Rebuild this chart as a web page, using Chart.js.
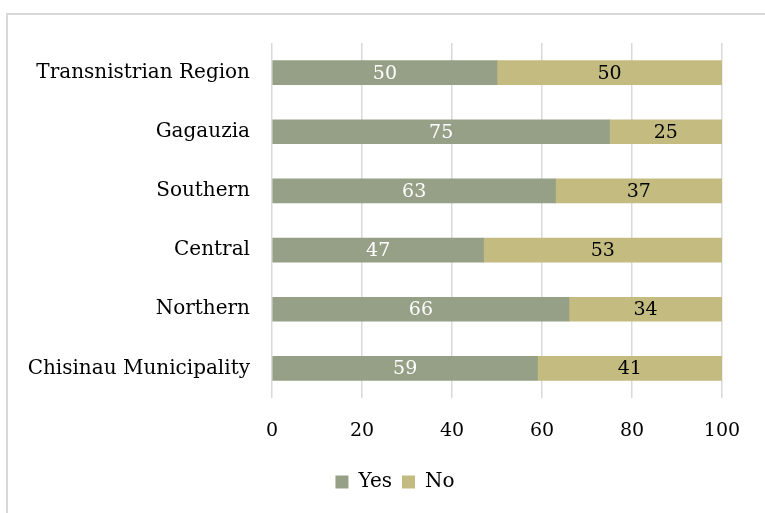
<!DOCTYPE html>
<html>
<head>
<meta charset="utf-8">
<script src="https://cdn.jsdelivr.net/npm/chart.js@4.4.1/dist/chart.umd.min.js"></script>
<style>
  html, body { margin: 0; padding: 0; background: #fff; overflow: hidden; }
  #frame {
    position: absolute; left: 6px; top: 13px;
    width: 774px; height: 520px;
    border: 2px solid #d9d9d9;
  }
  #chart { display: block; }
</style>
</head>
<body>
<div id="frame"><canvas id="chart" width="774" height="497"></canvas></div>
<script>
const regions = ['Transnistrian Region', 'Gagauzia', 'Southern', 'Central', 'Northern', 'Chisinau Municipality'];
const yesShare = [50, 75, 63, 47, 66, 59];
const noShare = [50, 25, 37, 53, 34, 41];
const xTicks = [0, 20, 40, 60, 80, 100];

const FONT = 'DejaVu Serif';

// writes each segment's value in the middle of its bar piece
const segmentLabels = {
  id: 'segmentLabels',
  afterDatasetsDraw(chart) {
    const ctx = chart.ctx;
    ctx.save();
    ctx.font = '19px "' + FONT + '"';
    ctx.textAlign = 'center';
    ctx.textBaseline = 'middle';
    chart.data.datasets.forEach((ds, i) => {
      chart.getDatasetMeta(i).data.forEach((bar, j) => {
        const mid = (bar.x + bar.base) / 2;
        ctx.fillStyle = ds.labelColor;
        ctx.fillText(String(ds.data[j]), mid, bar.y + 1);
      });
    });
    ctx.restore();
  }
};

new Chart(document.getElementById('chart'), {
  type: 'bar',
  data: {
    labels: regions,
    datasets: [
      { label: 'Yes', data: yesShare, backgroundColor: '#95a087', labelColor: '#ffffff' },
      { label: 'No', data: noShare, backgroundColor: '#c3bb80', labelColor: '#000000' }
    ]
  },
  options: {
    indexAxis: 'y',
    responsive: false,
    animation: false,
    datasets: { bar: { barThickness: 24 } },
    layout: { padding: { left: 60, right: 60, top: 28, bottom: 10 } },
    scales: {
      x: {
        stacked: true,
        min: 0,
        max: 100,
        afterBuildTicks: (scale) => { scale.ticks = xTicks.map(v => ({ value: v })); },
        afterFit: (scale) => { scale.height = 64; },
        grid: { color: '#d9d9d9', lineWidth: 1.5, drawTicks: false },
        border: { display: false },
        ticks: { color: '#000', padding: 22, font: { family: FONT, size: 19 } }
      },
      y: {
        stacked: true,
        afterFit: (scale) => {
          scale.width = 204;
          scale.paddingTop = 0;
          scale.paddingBottom = 0;
          // long region names run past the axis box on the left; don't clip them
          scale._computeLabelArea = () => undefined;
        },
        grid: { display: false, drawTicks: false },
        border: { display: false },
        ticks: { color: '#000', padding: 22, font: { family: FONT, size: 20 } }
      }
    },
    plugins: {
      legend: {
        position: 'bottom',
        labels: {
          color: '#000',
          boxWidth: 13,
          boxHeight: 13,
          padding: 10,
          font: { family: FONT, size: 20 }
        }
      },
      tooltip: { enabled: false }
    }
  },
  plugins: [segmentLabels]
});
</script>
</body>
</html>
